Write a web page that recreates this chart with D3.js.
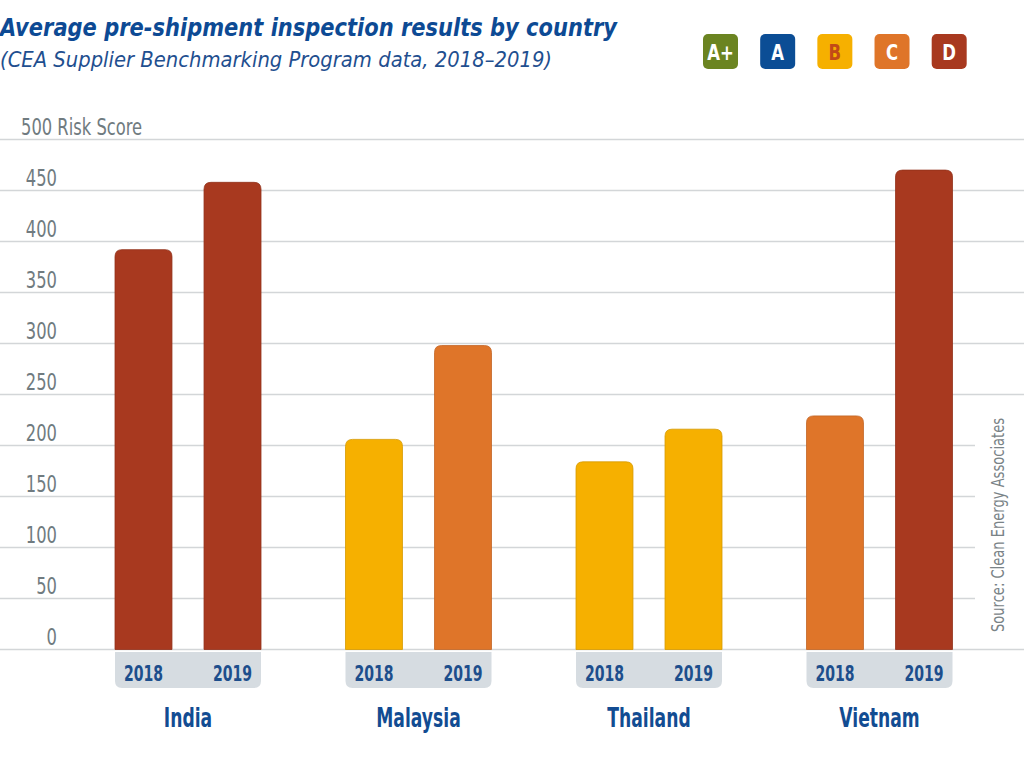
<!DOCTYPE html>
<html>
	<head>
		<meta charset="utf-8" />
		<title>Average pre-shipment inspection results by country</title>
		<script src="https://d3js.org/d3.v7.min.js"></script>
		<style>
			body { margin: 0; background: #fff; }
			text { font-family: "DejaVu Sans", "Roboto", sans-serif; }
		</style>
	</head>
	<body>
		<svg width="1024" height="765"></svg>
		<script>
			// chart data
			const countries = ["India", "Malaysia", "Thailand", "Vietnam"];
			const years = ["2018", "2019"];
			const scores2018 = [392, 206, 184, 229];
			const scores2019 = [458, 298, 216, 470];
			const grades2018 = ["D", "B", "B", "C"];
			const grades2019 = ["D", "C", "B", "D"];
			const grades = ["A+", "A", "B", "C", "D"];
			const gradeColors = ["#6b8421", "#0b4d95", "#f6b000", "#df7529", "#a8391f"];
			const gradeTextColors = ["#fff", "#fff", "#c24a17", "#fff", "#fff"];
			const yTicks = [0, 50, 100, 150, 200, 250, 300, 350, 400, 450, 500];

			const svg = d3.select("svg");
			const navy = "#124c92";

			// squeeze text horizontally to imitate a condensed face
			function condense(sel, k) {
				sel.each(function () {
					const w = this.getComputedTextLength();
					d3.select(this).attr("textLength", w * k).attr("lengthAdjust", "spacingAndGlyphs");
				});
			}

			const color = d3.scaleOrdinal().domain(grades).range(gradeColors);
			const textColor = d3.scaleOrdinal().domain(grades).range(gradeTextColors);

			const x = d3.scaleBand().domain(countries).range([72.75, 994.75]);
			const inner = d3.scaleBand().domain(years).range([-73, 73]).paddingInner(0.36);
			const y = d3.scaleLinear().domain([0, 500]).range([649.5, 139.5]);

			const bars = [];
			countries.forEach((c, i) => {
				bars.push({ country: c, year: "2018", value: scores2018[i], grade: grades2018[i] });
				bars.push({ country: c, year: "2019", value: scores2019[i], grade: grades2019[i] });
			});

			// gridlines (lower ones stop short of the source note)
			svg.append("g")
				.selectAll("line")
				.data(yTicks)
				.join("line")
				.attr("x1", 0)
				.attr("x2", (d) => (d > 0 && d <= 200 ? 975 : 1024))
				.attr("y1", (d) => y(d))
				.attr("y2", (d) => y(d))
				.attr("stroke", "#d3d6d8")
				.attr("stroke-width", 1.5);

			// tick labels; the top one carries the axis title
			const topTick = d3.max(yTicks);
			svg.append("g")
				.selectAll("text")
				.data(yTicks)
				.join("text")
				.attr("x", (d) => (d === topTick ? 21 : 57))
				.attr("y", (d) => y(d) - 5)
				.attr("text-anchor", (d) => (d === topTick ? "start" : "end"))
				.attr("fill", "#707b80")
				.style("font-size", "23px")
				.text((d) => (d === topTick ? `${d} Risk Score` : d))
				.call(condense, 0.71);

			// rounded-top bar path
			function barPath(x0, w, yTop, yBase, r) {
				return `M${x0},${yBase}V${yTop + r}Q${x0},${yTop} ${x0 + r},${yTop}H${x0 + w - r}Q${x0 + w},${yTop} ${x0 + w},${yTop + r}V${yBase}Z`;
			}

			const bw = inner.bandwidth();
			svg.append("g")
				.selectAll("path")
				.data(bars)
				.join("path")
				.attr("d", (d) => {
					const cx = x(d.country) + x.bandwidth() / 2 + inner(d.year);
					return barPath(cx, bw, y(d.value), y(0), 7);
				})
				.attr("fill", (d) => color(d.grade))
				.attr("stroke", (d) => d3.color(color(d.grade)).darker(0.4))
				.attr("stroke-width", 0.8);

			// year label boxes
			const groups = svg.append("g")
				.selectAll("g")
				.data(countries)
				.join("g")
				.attr("transform", (d) => `translate(${x(d) + x.bandwidth() / 2},0)`);

			groups.append("path")
				.attr("d", () => {
					const l = inner.range()[0], rgt = inner.range()[1], t = 652, b = 688, r = 7;
					return `M${l},${t}H${rgt}V${b - r}Q${rgt},${b} ${rgt - r},${b}H${l + r}Q${l},${b} ${l},${b - r}Z`;
				})
				.attr("fill", "#d6dce1");

			groups.selectAll(".yr")
				.data(years)
				.join("text")
				.attr("class", "yr")
				.attr("x", (d) => inner(d) + bw / 2)
				.attr("y", 681)
				.attr("text-anchor", "middle")
				.attr("fill", "#1d4e8c")
				.style("font-size", "22px")
				.style("font-weight", "bold")
				.text((d) => d)
				.call(condense, 0.64);

			groups.append("text")
				.attr("x", 0)
				.attr("y", 727)
				.attr("text-anchor", "middle")
				.attr("fill", navy)
				.style("font-size", "26px")
				.style("font-weight", "bold")
				.text((d) => d)
				.call(condense, 0.66);

			// title
			svg.append("text")
				.attr("x", 0)
				.attr("y", 36)
				.attr("fill", "#0d4a94")
				.attr("textLength", 617)
				.attr("lengthAdjust", "spacingAndGlyphs")
				.style("font-size", "25px")
				.style("font-weight", "bold")
				.style("font-style", "italic")
				.text("Average pre-shipment inspection results by country");

			svg.append("text")
				.attr("x", 0)
				.attr("y", 67)
				.attr("fill", "#1f4f8f")
				.attr("textLength", 552)
				.attr("lengthAdjust", "spacingAndGlyphs")
				.style("font-size", "22px")
				.style("font-style", "italic")
				.text("(CEA Supplier Benchmarking Program data, 2018\u20132019)");

			// grade legend
			const legendX = d3.scaleBand().domain(grades).range([703, 970]).paddingInner(0.33);
			const legend = svg.append("g")
				.selectAll("g")
				.data(grades)
				.join("g")
				.attr("transform", (d) => `translate(${legendX(d)},34)`);

			legend.append("rect")
				.attr("width", 35)
				.attr("height", 35)
				.attr("rx", 5)
				.attr("fill", (d) => color(d));

			legend.append("text")
				.attr("x", 17.5)
				.attr("y", 26)
				.attr("text-anchor", "middle")
				.attr("fill", (d) => textColor(d))
				.style("font-size", "22px")
				.style("font-weight", "bold")
				.text((d) => d)
				.call(condense, 0.75);

			// source note
			svg.append("text")
				.attr("transform", "translate(1004,632) rotate(-90)")
				.attr("fill", "#7a8387")
				.attr("textLength", 214)
				.attr("lengthAdjust", "spacingAndGlyphs")
				.style("font-size", "18px")
				.text("Source: Clean Energy Associates");
		</script>
	</body>
</html>
